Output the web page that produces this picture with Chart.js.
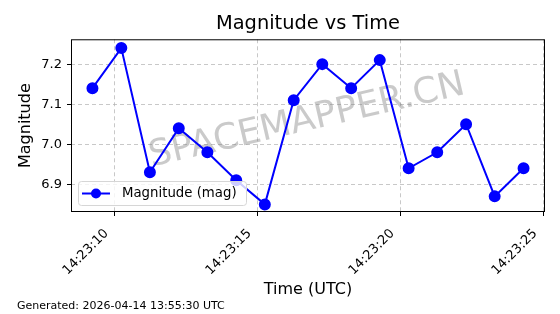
<!DOCTYPE html>
<html>
<head>
<meta charset="utf-8">
<script src="https://cdn.jsdelivr.net/npm/chart.js@4"></script>
<style>
  html, body { margin: 0; padding: 0; background: #fff; }
  #wrap { width: 560px; height: 314px; position: relative; }
</style>
</head>
<body>
<div id="wrap"><canvas id="chart"></canvas></div>
<script>
// seconds after 14:23:00 UTC
const timeSeconds = [9.23, 10.24, 11.24, 12.25, 13.25, 14.26, 15.26, 16.27, 17.27, 18.28, 19.28, 20.29, 21.29, 22.30, 23.30, 24.31];
const magnitudes = [7.14, 7.24, 6.93, 7.04, 6.98, 6.91, 6.85, 7.11, 7.20, 7.14, 7.21, 6.94, 6.98, 7.05, 6.87, 6.94];
const xTicks = [10, 15, 20, 25];
const yTicks = [6.9, 7.0, 7.1, 7.2];

const FONT = "'DejaVu Sans', sans-serif";
const gridColor = 'rgba(176, 176, 176, 0.7)';

// cadre noir + filigrane + légende + pied de page
const decoPlugin = {
    id: 'deco',
    beforeDatasetsDraw(chart) {
        const { ctx, chartArea } = chart;
        ctx.save();
        ctx.beginPath();
        ctx.rect(chartArea.left, chartArea.top, chartArea.width, chartArea.height);
        ctx.clip();
        ctx.translate(307, 121);
        ctx.rotate(-13 * Math.PI / 180);
        ctx.font = '36px ' + FONT;
        ctx.fillStyle = 'rgba(128, 128, 128, 0.42)';
        ctx.textAlign = 'center';
        ctx.textBaseline = 'middle';
        ctx.fillText('SPACEMAPPER.CN', 0, 0);
        ctx.restore();
    },
    afterDatasetsDraw(chart) {
        const { ctx, chartArea } = chart;
        ctx.save();
        ctx.strokeStyle = '#000';
        ctx.lineWidth = 1;
        ctx.strokeRect(chartArea.left + 0.5, chartArea.top + 0.5, chartArea.width - 1, chartArea.height - 1);

        // légende en bas à gauche
        const lx = 78, ly = 181, lw = 168, lh = 24;
        ctx.beginPath();
        ctx.roundRect(lx + 0.5, ly + 0.5, lw, lh, 3);
        ctx.fillStyle = 'rgba(255, 255, 255, 0.8)';
        ctx.fill();
        ctx.strokeStyle = '#d6d6d6';
        ctx.stroke();
        const cy = ly + lh / 2 + 0.5;
        ctx.beginPath();
        ctx.moveTo(lx + 4, cy);
        ctx.lineTo(lx + 32, cy);
        ctx.strokeStyle = '#0000ff';
        ctx.lineWidth = 2;
        ctx.stroke();
        ctx.beginPath();
        ctx.arc(lx + 18, cy, 5, 0, Math.PI * 2);
        ctx.fillStyle = '#0000ff';
        ctx.fill();
        ctx.fillStyle = '#000';
        ctx.font = '13.3px ' + FONT;
        ctx.textBaseline = 'middle';
        ctx.fillText(chart.data.datasets[0].label, lx + 44, cy);

        ctx.restore();
    },
    afterDraw(chart) {
        const { ctx } = chart;
        ctx.save();
        ctx.fillStyle = '#000';
        ctx.font = '11px ' + FONT;
        ctx.textBaseline = 'alphabetic';
        ctx.fillText('Generated: 2026-04-14 13:55:30 UTC', 17, 309);
        ctx.restore();
    }
};

const pad2 = n => String(n).padStart(2, '0');

new Chart(document.getElementById('chart'), {
    type: 'line',
    data: {
        datasets: [{
            label: 'Magnitude (mag)',
            data: timeSeconds.map((t, i) => ({ x: t, y: magnitudes[i] })),
            borderColor: '#0000ff',
            backgroundColor: '#0000ff',
            borderWidth: 2,
            pointRadius: 5,
            pointHoverRadius: 5,
            tension: 0,
            fill: false,
        }]
    },
    options: {
        responsive: true,
        maintainAspectRatio: false,
        animation: false,
        layout: { padding: { left: 0, right: 15, top: 0, bottom: 0 } },
        plugins: {
            legend: { display: false },
            tooltip: { enabled: false },
            title: {
                display: true,
                fullSize: false,
                text: 'Magnitude vs Time',
                color: '#000',
                font: { family: FONT, size: 19.4, weight: 'normal' },
                padding: { top: 12, bottom: 4 },
            },
        },
        scales: {
            x: {
                type: 'linear',
                min: 8.48,
                max: 25.06,
                afterBuildTicks: axis => { axis.ticks = xTicks.map(v => ({ value: v })); },
                afterFit: axis => {
                    axis.height = 102;
                    axis.paddingLeft = 0;
                    axis.paddingRight = 0;
                },
                grid: {
                    color: gridColor,
                    tickColor: '#000',
                    tickLength: 4,
                    tickBorderDash: [],
                },
                border: { display: false, dash: [4, 3] },
                ticks: {
                    color: '#000',
                    font: { family: FONT, size: 13 },
                    minRotation: 45,
                    maxRotation: 45,
                    padding: 10,
                    labelOffset: -8,
                    autoSkip: false,
                    callback: v => '14:23:' + pad2(v),
                },
                title: {
                    display: true,
                    text: 'Time (UTC)',
                    color: '#000',
                    font: { family: FONT, size: 16 },
                    padding: { top: 0, bottom: 15 },
                },
            },
            y: {
                min: 6.831,
                max: 7.262,
                afterBuildTicks: axis => { axis.ticks = yTicks.map(v => ({ value: v })); },
                afterFit: axis => { axis.width = 71; },
                grid: {
                    color: gridColor,
                    tickColor: '#000',
                    tickLength: 4,
                    tickBorderDash: [],
                },
                border: { display: false, dash: [4, 3] },
                ticks: {
                    color: '#000',
                    font: { family: FONT, size: 13 },
                    padding: 5,
                    callback: v => v.toFixed(1),
                },
                title: {
                    display: true,
                    text: 'Magnitude',
                    color: '#000',
                    font: { family: FONT, size: 16 },
                    padding: { top: 16, bottom: 0 },
                },
            },
        },
    },
    plugins: [decoPlugin],
});
</script>
</body>
</html>
